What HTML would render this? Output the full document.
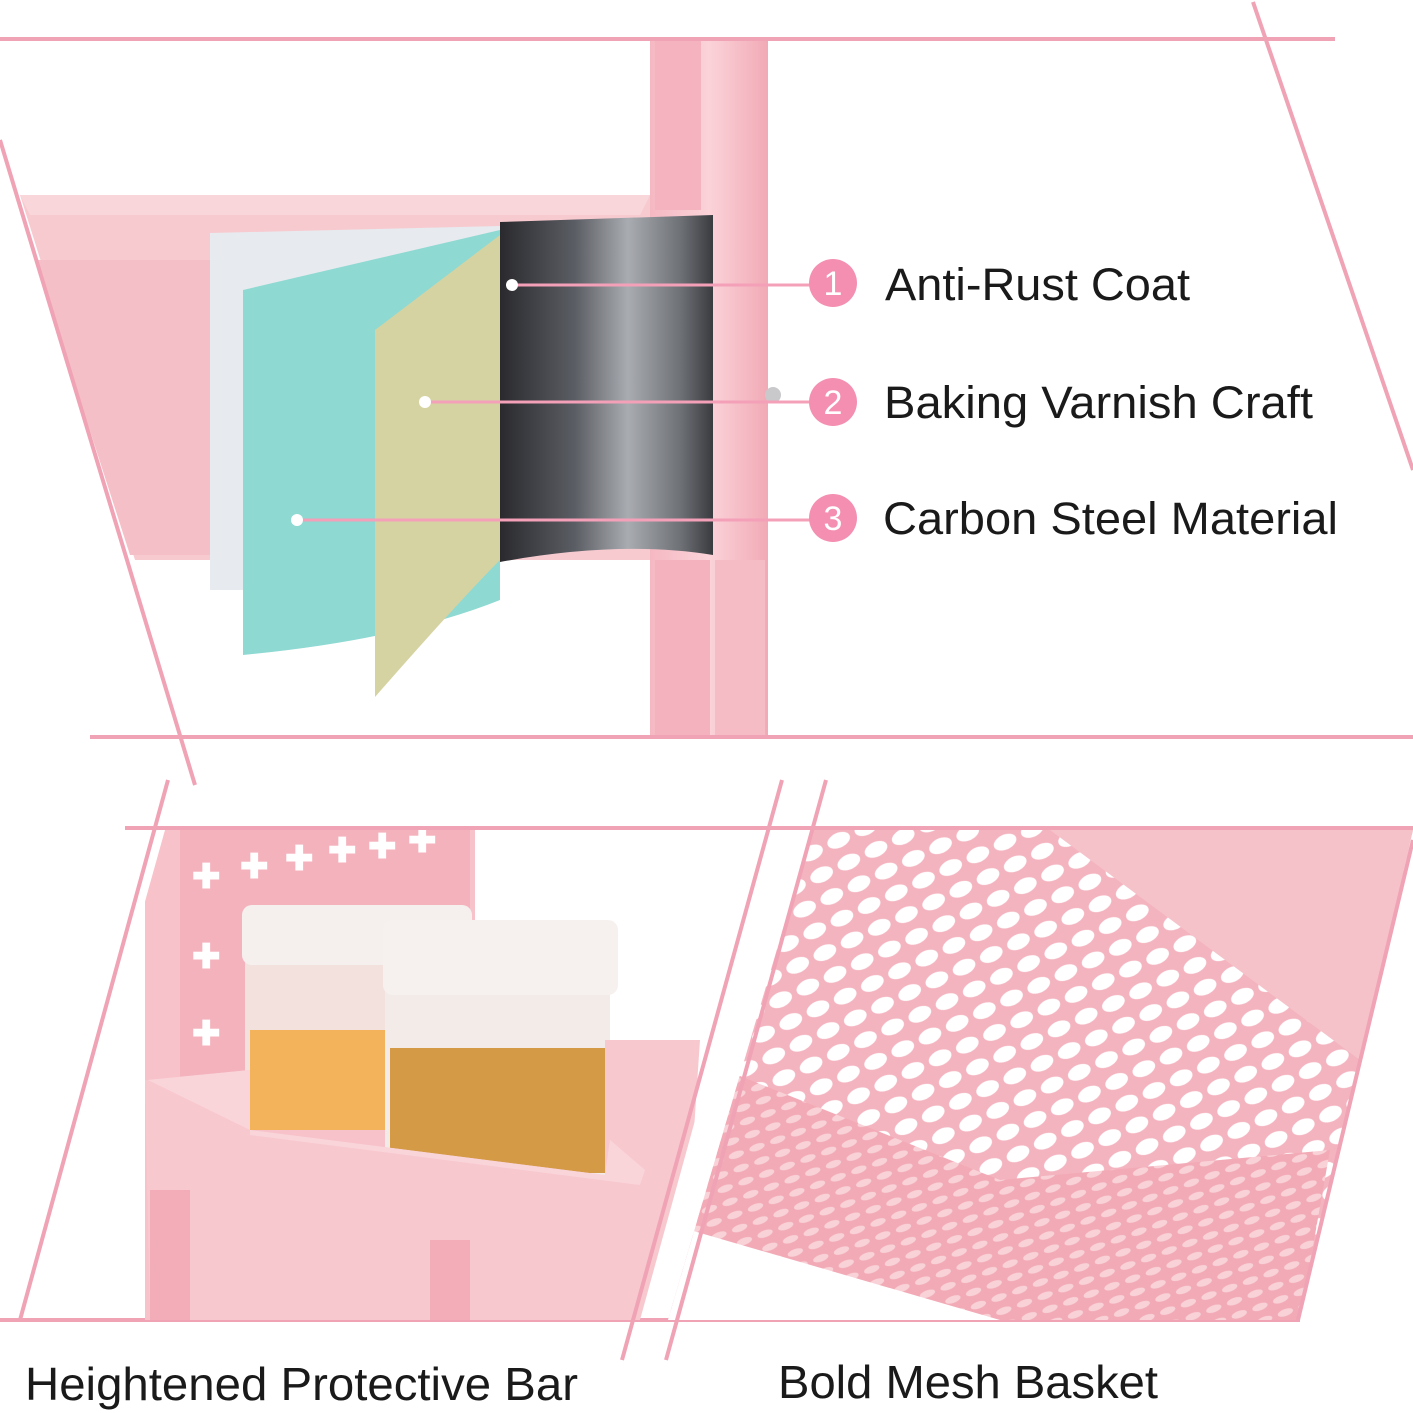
<!DOCTYPE html>
<html><head><meta charset="utf-8"><style>
html,body{margin:0;padding:0;background:#fff;}
svg{display:block}
text{font-family:"Liberation Sans",sans-serif;fill:#1a1a1a}
</style></head><body>
<svg width="1413" height="1413" viewBox="0 0 1413 1413" xmlns="http://www.w3.org/2000/svg">
<defs>
<linearGradient id="cyl" x1="0" x2="1" y1="0" y2="0">
<stop offset="0" stop-color="#2a2a2e"/><stop offset="0.35" stop-color="#5a5d63"/><stop offset="0.6" stop-color="#a9acb1"/><stop offset="0.85" stop-color="#6d7075"/><stop offset="1" stop-color="#3a3b3f"/>
</linearGradient>
<linearGradient id="pole" x1="0" x2="1"><stop offset="0" stop-color="#f5b8c2"/><stop offset="0.5" stop-color="#fbd3d9"/><stop offset="1" stop-color="#f1aab6"/></linearGradient>
<pattern id="mesh" width="30" height="24" patternUnits="userSpaceOnUse" patternTransform="rotate(-25)">
<rect width="30" height="24" fill="#f4b4bf"/>
<ellipse cx="15" cy="12" rx="12" ry="7.5" fill="#fff"/>
</pattern>
<pattern id="mesh2" width="22" height="14" patternUnits="userSpaceOnUse" patternTransform="rotate(-20)">
<rect width="22" height="14" fill="#f2aab6"/>
<ellipse cx="11" cy="7" rx="8" ry="3.5" fill="#f9d2d8"/>
</pattern>
<clipPath id="cl"><polygon points="165,830 775,830 640,1320 28,1320"/></clipPath>
<clipPath id="cr"><polygon points="812,830 1413,830 1300,1320 668,1320"/></clipPath>
</defs>

<!-- top panel -->
<polygon points="20,195 650,195 650,560 135,560" fill="#f7cad0"/>
<polygon points="20,195 650,195 640,215 30,215" fill="#f9d6da"/>
<polygon points="35,260 210,260 210,555 130,555" fill="#f5bfc7"/>
<rect x="650" y="40" width="118" height="695" fill="url(#pole)"/>
<rect x="655" y="40" width="46" height="170" fill="#f5b3bf"/>
<rect x="715" y="560" width="50" height="175" fill="#f5bcc6"/>
<rect x="655" y="560" width="55" height="175" fill="#f3b2bd"/>
<circle cx="773" cy="395" r="8" fill="#c9c9cc"/>
<polygon points="210,233 500,226 500,590 210,590" fill="#e7eaee"/>
<path d="M243,290 L500,230 L500,600 Q400,640 243,655 Z" fill="#8ed9d2"/>
<path d="M375,330 L500,235 L500,560 Q460,600 375,697 Z" fill="#d6d3a3"/>
<path d="M500,222 L713,215 L713,555 Q620,540 500,562 Z" fill="url(#cyl)"/>

<!-- frame lines -->
<g stroke="#f0a3b5" stroke-width="4" fill="none">
<line x1="0" y1="39" x2="1335" y2="39"/>
<line x1="1253" y1="2" x2="1413" y2="470"/>
<line x1="0" y1="140" x2="195" y2="785"/>
<line x1="90" y1="737" x2="1413" y2="737"/>
<line x1="125" y1="828" x2="1413" y2="828"/>
<line x1="0" y1="1320" x2="1300" y2="1320"/>
</g>

<!-- callouts -->
<g stroke="#f3a0b8" stroke-width="3">
<line x1="512" y1="285" x2="810" y2="285"/>
<line x1="425" y1="402" x2="810" y2="402"/>
<line x1="297" y1="520" x2="810" y2="520"/>
</g>
<circle cx="512" cy="285" r="6" fill="#fff"/>
<circle cx="425" cy="402" r="6" fill="#fff"/>
<circle cx="297" cy="520" r="6" fill="#fff"/>
<g fill="#f48fb1"><circle cx="833" cy="283" r="24"/><circle cx="833" cy="402" r="24"/><circle cx="833" cy="518" r="24"/></g>
<g font-size="34" text-anchor="middle"><text x="833" y="295" style="fill:#fff">1</text><text x="833" y="414" style="fill:#fff">2</text><text x="833" y="530" style="fill:#fff">3</text></g>
<g font-size="45"><text x="885" y="300" textLength="305" lengthAdjust="spacingAndGlyphs">Anti-Rust Coat</text><text x="884" y="418" textLength="429" lengthAdjust="spacingAndGlyphs">Baking Varnish Craft</text><text x="883" y="534" textLength="455" lengthAdjust="spacingAndGlyphs">Carbon Steel Material</text></g>

<!-- bottom-left panel -->
<g clip-path="url(#cl)">
<rect x="145" y="830" width="330" height="490" fill="#f7c2ca"/>
<rect x="180" y="830" width="290" height="260" fill="#f4b2bd"/>
<g font-size="34" font-weight="bold">
<text x="192" y="888" style="fill:#fff">✚</text><text x="240" y="878" style="fill:#fff">✚</text><text x="285" y="870" style="fill:#fff">✚</text><text x="328" y="862" style="fill:#fff">✚</text><text x="368" y="858" style="fill:#fff">✚</text><text x="408" y="852" style="fill:#fff">✚</text>
<text x="192" y="968" style="fill:#fff">✚</text><text x="192" y="1045" style="fill:#fff">✚</text>
</g>
<rect x="245" y="940" width="150" height="190" fill="#f3ece6" opacity="0.8"/>
<rect x="242" y="905" width="230" height="60" rx="10" fill="#f5f0ee"/>
<rect x="250" y="1030" width="140" height="100" fill="#f2b35a"/>
<rect x="385" y="975" width="225" height="205" fill="#f3ebe7"/>
<rect x="383" y="920" width="235" height="75" rx="10" fill="#f6f1ef"/>
<rect x="390" y="1048" width="215" height="125" fill="#d59a45"/>
<polygon points="145,1080 250,1070 250,1130 605,1175 605,1040 700,1040 690,1190 640,1320 150,1320" fill="#f8c8cf"/>
<polygon points="148,1080 250,1070 250,1135 640,1185 645,1170 610,1140 605,1175 250,1130" fill="#f9d5da"/>
<rect x="150" y="1190" width="40" height="130" fill="#f2adb9"/>
<rect x="430" y="1240" width="40" height="80" fill="#f2adb9"/>
</g>
<!-- bottom-right panel -->
<g clip-path="url(#cr)">
<rect x="660" y="830" width="760" height="490" fill="url(#mesh)"/>
<polygon points="1050,830 1413,830 1413,1000 1360,1060" fill="#f6c2ca"/>
<polygon points="700,1060 1000,1180 1330,1150 1300,1320 660,1320" fill="url(#mesh2)"/>
<polygon points="690,1230 1000,1320 660,1320" fill="#fff"/>
</g>
<g stroke="#f0a3b5" stroke-width="4" fill="none">
<line x1="168" y1="780" x2="20" y2="1320"/>
<line x1="782" y1="780" x2="622" y2="1360"/>
<line x1="826" y1="780" x2="666" y2="1360"/>
<line x1="1413" y1="840" x2="1298" y2="1320"/>
</g>
<g font-size="46"><text x="25" y="1400" textLength="553" lengthAdjust="spacingAndGlyphs">Heightened Protective Bar</text><text x="778" y="1398" textLength="380" lengthAdjust="spacingAndGlyphs">Bold Mesh Basket</text></g>
</svg>
</body></html>
